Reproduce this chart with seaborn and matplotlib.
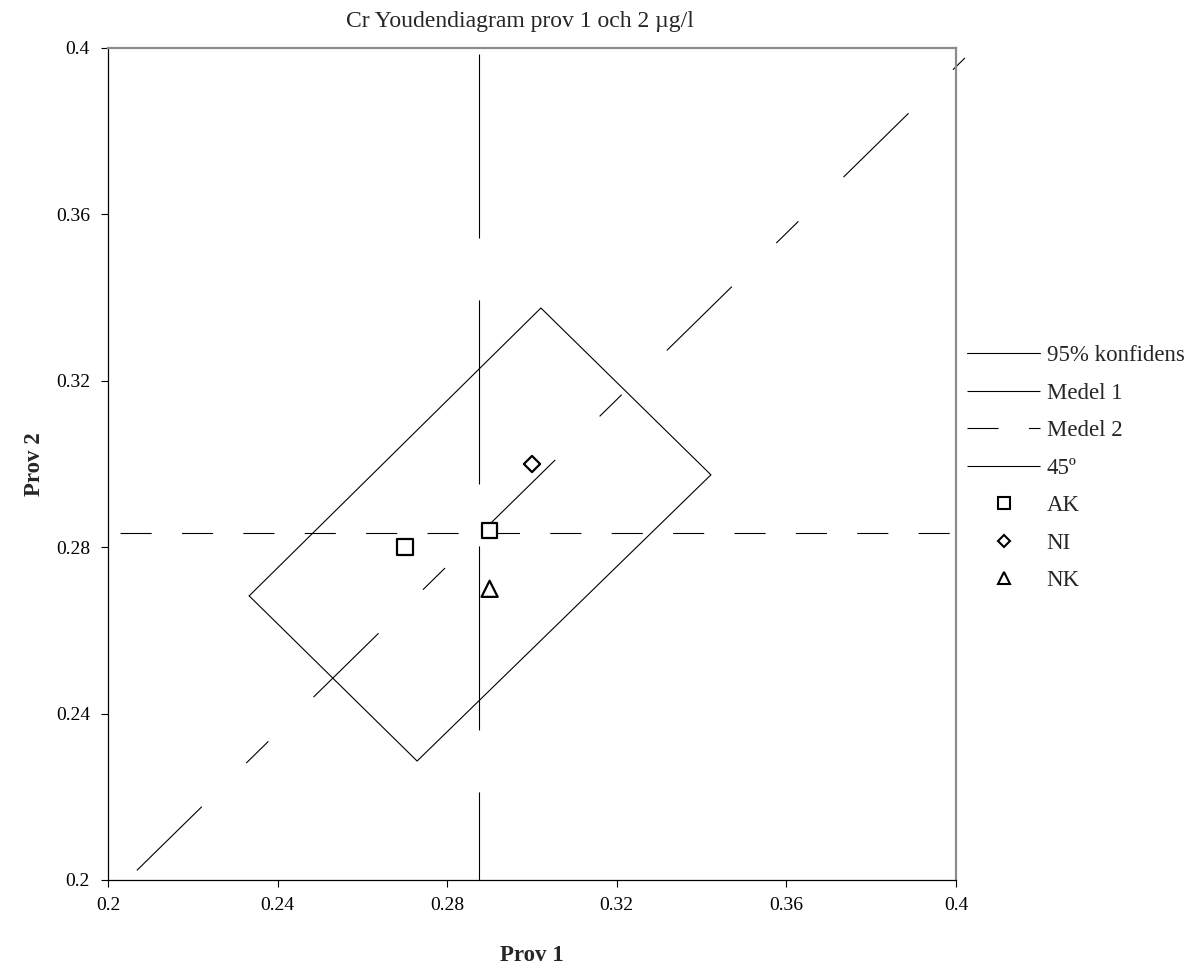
import matplotlib
matplotlib.use("Agg")
import matplotlib.pyplot as plt
from matplotlib.lines import Line2D
import numpy as np
import pandas as pd
import seaborn as sns

# Laboratory results, sample 1 vs sample 2 (µg/l)
labs = ["AK", "AK", "NI", "NK"]
prov1 = [0.270, 0.290, 0.300, 0.290]
prov2 = [0.280, 0.284, 0.300, 0.270]

# 95 % confidence rectangle (corners, closed)
conf_x = [0.2333, 0.3021, 0.3422, 0.2729, 0.2333]
conf_y = [0.2683, 0.3375, 0.2974, 0.2286, 0.2683]

# 45° reference line through the mean point
line45_x = [0.2068, 0.4021]
line45_y = [0.2023, 0.3976]

# extent of the mean lines
medel1_y = [0.3986, 0.200]
medel2_x = [0.200, 0.400]

ticks = [0.2, 0.24, 0.28, 0.32, 0.36, 0.4]
tick_labels = ["0.2", "0.24", "0.28", "0.32", "0.36", "0.4"]

legend_labels = ["95% konfidens", "Medel 1", "Medel 2", "45º", "AK", "NI", "NK"]

sns.set_style("white")
plt.rcParams["font.family"] = ["Liberation Serif", "DejaVu Serif"]
plt.rcParams["lines.scale_dashes"] = False

W, H = 1195, 972
fig = plt.figure(figsize=(W / 100, H / 100), dpi=100)
L, R, T, B = 108, 956, 48, 880
ax = fig.add_axes([L / W, 1 - B / H, (R - L) / W, (B - T) / H])

df = pd.DataFrame({"lab": labs, "prov1": prov1, "prov2": prov2})
medel1 = float(np.mean(prov1))
medel2 = float(np.mean(prov2))

lw = 0.8
ls_medel1 = (0, (132.5, 44.6))
ls_medel2 = (35.5, (22.4, 21.8))
ls_45 = (0, (65.6, 44.8, 22.3, 45.5))

# confidence rectangle
sns.lineplot(x=conf_x, y=conf_y, sort=False, estimator=None, color="black",
             linewidth=lw, ax=ax, legend=False)
# mean of sample 1 (vertical)
sns.lineplot(x=[medel1, medel1], y=medel1_y, sort=False, estimator=None,
             color="black", linewidth=lw, linestyle=ls_medel1, ax=ax, legend=False)
# mean of sample 2 (horizontal)
sns.lineplot(x=medel2_x, y=[medel2, medel2], sort=False, estimator=None,
             color="black", linewidth=lw, linestyle=ls_medel2, ax=ax, legend=False)
# 45° line
sns.lineplot(x=line45_x, y=line45_y, sort=False, estimator=None, color="black",
             linewidth=lw, linestyle=ls_45, clip_on=False, ax=ax, legend=False)

# laboratory points
sns.scatterplot(data=df, x="prov1", y="prov2", style="lab", size="lab",
                markers={"AK": "s", "NI": "D", "NK": "^"},
                sizes={"AK": 125, "NI": 68, "NK": 135},
                facecolor="white", edgecolor="black", linewidth=1.6,
                legend=False, zorder=5, clip_on=False, ax=ax)

ax.set_xlim(0.2, 0.4)
ax.set_ylim(0.2, 0.4)
ax.set_xticks(ticks)
ax.set_xticklabels(tick_labels)
ax.set_yticks(ticks)
ax.set_yticklabels(tick_labels)
ax.tick_params(axis="both", direction="out", length=5, width=0.8, color="black",
               labelsize=14, labelcolor="black", bottom=True, left=True)
ax.tick_params(axis="x", pad=7)
ax.tick_params(axis="y", pad=8)

for side in ("left", "bottom"):
    ax.spines[side].set_color("black")
    ax.spines[side].set_linewidth(0.9)
for side in ("top", "right"):
    ax.spines[side].set_color("#8c8c8c")
    ax.spines[side].set_linewidth(1.6)

ax.set_xlabel("Prov 1", fontsize=16.5, fontweight="bold", va="center")
ax.xaxis.set_label_coords(0.5, -75 / (B - T))
ax.set_ylabel("Prov 2", fontsize=16.5, fontweight="bold", va="center")
ax.yaxis.set_label_coords(-74 / (R - L), 0.5)

fig.text(520 / W, 1 - 22 / H, "Cr Youdendiagram prov 1 och 2 µg/l",
         ha="center", va="center", fontsize=17)

handles = [
    Line2D([], [], color="black", lw=lw),
    Line2D([], [], color="black", lw=lw, linestyle=ls_medel1),
    Line2D([], [], color="black", lw=lw, linestyle=(0, (22.4, 21.8))),
    Line2D([], [], color="black", lw=lw, linestyle=ls_45),
    Line2D([], [], ls="none", marker="s", ms=8, mfc="white", mec="black", mew=1.5),
    Line2D([], [], ls="none", marker="D", ms=6.5, mfc="white", mec="black", mew=1.5),
    Line2D([], [], ls="none", marker="^", ms=9, mfc="white", mec="black", mew=1.5),
]
fig.legend(handles, legend_labels, loc="upper left",
           bbox_to_anchor=(967 / W, 1 - 345 / H), frameon=False,
           fontsize=16.5, handlelength=3.19, handletextpad=0.28,
           labelspacing=0.72, borderpad=0, borderaxespad=0)

fig.savefig("out.png", dpi=100)
